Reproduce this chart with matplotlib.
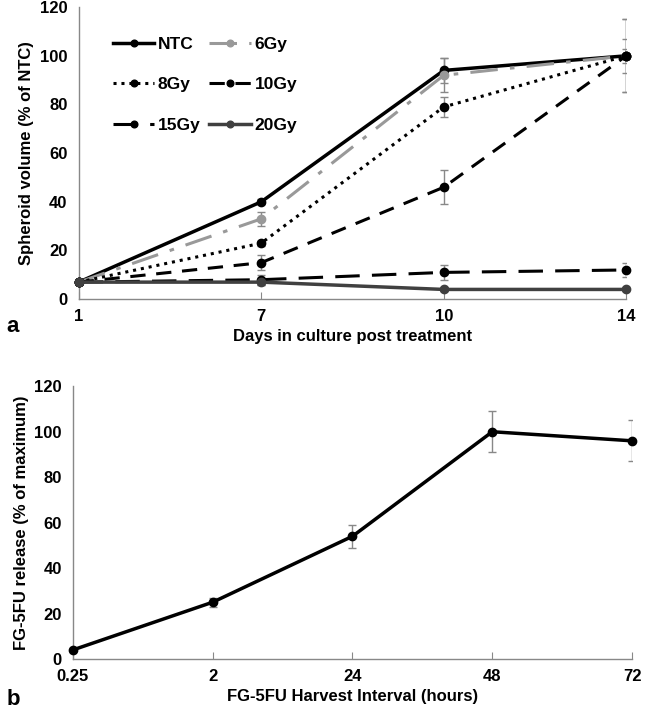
import numpy as np
import matplotlib
matplotlib.use('Agg')
import matplotlib.pyplot as plt

plt.rcParams['font.family'] = ['Liberation Sans', 'DejaVu Sans']
plt.rcParams['font.weight'] = 'bold'

# panel a data
days = ['1', '7', '10', '14']
ntc = [7, 40, 94, 100]
ntc_err = [0, 1, 5, 3]
gy6 = [7, 33, 92, 100]
gy6_err = [0, 3, 7, 7]
gy8 = [7, 23, 79, 100]
gy8_err = [0, 1, 4, 15]
gy10 = [7, 15, 46, 100]
gy10_err = [0, 3, 7, 15]
gy15 = [7, 8, 11, 12]
gy15_err = [0, 2, 3, 3]
gy20 = [7, 7, 4, 4]
gy20_err = [0, 1, 0.5, 0.5]

# panel b data
hours = ['0.25', '2', '24', '48', '72']
release = [4, 25, 54, 100, 96]
release_err = [0.5, 2, 5, 9, 9]

fig = plt.figure(figsize=(6.45, 7.14), dpi=100)
ax1 = fig.add_axes([0.122, 0.581, 0.849, 0.409])
ax2 = fig.add_axes([0.113, 0.077, 0.867, 0.382])

x1 = np.arange(len(days))
series = [
    ('NTC', ntc, ntc_err, 'black', '-', 2.5),
    ('6Gy', gy6, gy6_err, '#999999', (0, (9, 4, 1.5, 4)), 2.2),
    ('8Gy', gy8, gy8_err, 'black', (0, (1, 1.6)), 2.2),
    ('10Gy', gy10, gy10_err, 'black', (0, (5, 3.5)), 2.2),
    ('15Gy', gy15, gy15_err, 'black', (0, (8, 4)), 2.2),
    ('20Gy', gy20, gy20_err, '#404040', '-', 2.5),
]
handles = {}
for name, y, e, c, ls, lw in series:
    ax1.errorbar(x1, y, yerr=e, fmt='none', ecolor='#888888', elinewidth=1,
                 capsize=3, capthick=1, zorder=2)
    h, = ax1.plot(x1, y, color=c, linestyle=ls, linewidth=lw, marker='o',
                  markersize=6, label=name, zorder=3, clip_on=False)
    handles[name] = h

order = ['NTC', '8Gy', '15Gy', '6Gy', '10Gy', '20Gy']
ax1.legend([handles[n] for n in order], order, ncol=2, loc='upper left',
           bbox_to_anchor=(0.04, 0.94), frameon=False, fontsize=12.5,
           handlelength=2.4, handletextpad=0.2, columnspacing=0.5,
           labelspacing=1.45, borderaxespad=0.3, markerscale=0.8)

ax1.set_xlim(0, len(days) - 1)
ax1.set_ylim(0, 120)
ax1.set_xticks(x1)
ax1.set_xticklabels(days)
ax1.set_yticks(np.arange(0, 121, 20))
ax1.set_xlabel('Days in culture post treatment', fontsize=12, fontweight='bold')
ax1.set_ylabel('Spheroid volume (% of NTC)', fontsize=12, fontweight='bold')

x2 = np.arange(len(hours))
ax2.errorbar(x2, release, yerr=release_err, fmt='none', ecolor='#888888',
             elinewidth=1, capsize=3, capthick=1, zorder=2)
ax2.plot(x2, release, color='black', linewidth=2.5, marker='o', markersize=6,
         zorder=3, clip_on=False)
ax2.set_xlim(0, len(hours) - 1)
ax2.set_ylim(0, 120)
ax2.set_xticks(x2)
ax2.set_xticklabels(hours)
ax2.set_yticks(np.arange(0, 121, 20))
ax2.set_xlabel('FG-5FU Harvest Interval (hours)', fontsize=12, fontweight='bold')
ax2.set_ylabel('FG-5FU release (% of maximum)', fontsize=12, fontweight='bold')

for ax in (ax1, ax2):
    for s in ['top', 'right']:
        ax.spines[s].set_visible(False)
    for s in ['left', 'bottom']:
        ax.spines[s].set_color('#888888')
        ax.spines[s].set_linewidth(1)
    ax.tick_params(axis='x', direction='in', length=5, color='#888888',
                   labelsize=12, pad=7)
    ax.tick_params(axis='y', length=0, labelsize=12, pad=8)
    for lab in ax.get_xticklabels() + ax.get_yticklabels():
        lab.set_fontweight('bold')

fig.text(0.01, 0.535, 'a', fontsize=16, fontweight='bold')
fig.text(0.01, 0.013, 'b', fontsize=16, fontweight='bold')

fig.savefig('out.png', dpi=100)
